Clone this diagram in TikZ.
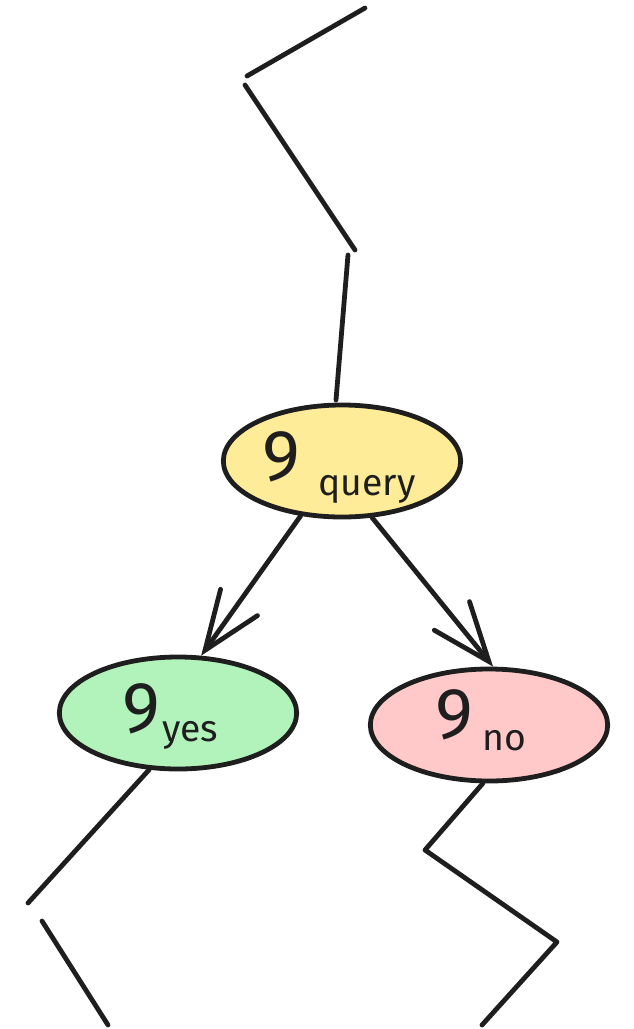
\documentclass[tikz,border=0pt]{standalone}
\usepackage{fontspec}
\setmainfont{Fira Sans}
\usetikzlibrary{shapes.geometric,arrows.meta}
\definecolor{ink}{HTML}{1E1E1E}
\definecolor{yel}{HTML}{FFEC99}
\definecolor{grn}{HTML}{B2F2BB}
\definecolor{pnk}{HTML}{FFC9C9}
\tikzset{
  state/.style={ellipse, draw=ink, line width=3.6pt, minimum width=178pt, minimum height=84pt, inner sep=0pt},
  big/.style={anchor=base west, inner sep=0pt, text=ink, font=\fontsize{54}{54}\selectfont},
  sub/.style={anchor=base west, inner sep=0pt, text=ink, font=\fontsize{28}{28}\selectfont},
  wire/.style={draw=ink, line width=3.6pt, line cap=round, line join=round},
  arr/.style={wire, -{Straight Barb[length=44pt, width=34pt, line width=3.6pt, line cap=round]}}
}
\begin{document}
\begin{tikzpicture}[x=0.75pt, y=-0.75pt]
\useasboundingbox (0,0) rectangle (634,1029);
% nodes
\node[state, fill=yel] (q) at (342,461) {};
\node[state, fill=grn] (y) at (178,713) {};
\node[state, fill=pnk] (n) at (489,725) {};
% labels
\node[big] (q9) at (262,480) {9};
\node[sub] (qs) at (318,495) {query};
\node[big] (y9) at (122,732) {9};
\node[sub] (ys) at (162,741) {yes};
\node[big] (n9) at (435,738) {9};
\node[sub] (ns) at (482,750) {no};
% top path
\coordinate (t1) at (365,8);
\coordinate (t2) at (247,76);
\coordinate (t3) at (245,85);
\coordinate (t4) at (355,250);
\coordinate (t5) at (348,255);
\coordinate (t6) at (336,400);
\draw[wire] (t1) -- (t2);
\draw[wire] (t3) -- (t4);
\draw[wire] (t5) -- (t6);
% arrows
\draw[arr] (q.233) -- (y.68);
\draw[arr] (q.298) -- (n.86);
% bottom left
\coordinate (l1) at (28,903);
\coordinate (l2) at (42,921);
\coordinate (l3) at (108,1025);
\draw[wire] (y.243) -- (l1);
\draw[wire] (l2) -- (l3);
% bottom right
\coordinate (r1) at (425,850);
\coordinate (r2) at (557,942);
\coordinate (r3) at (482,1025);
\draw[wire] (n.264) -- (r1) -- (r2) -- (r3);
\end{tikzpicture}
\end{document}
